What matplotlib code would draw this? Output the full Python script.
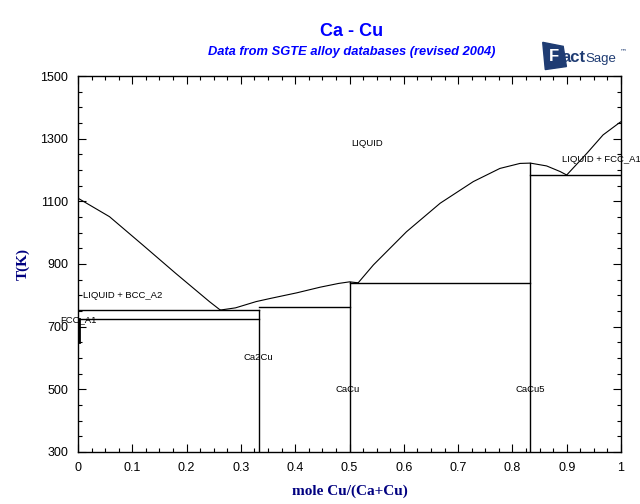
import numpy as np
import matplotlib
matplotlib.use("Agg")
import matplotlib.pyplot as plt
from matplotlib.patches import Polygon
from matplotlib.ticker import MultipleLocator, FixedLocator

# --- data ---
# liquidus, Ca side (x, T)
liq_ca_x = [0.0, 0.058, 0.119, 0.180, 0.242, 0.262]
liq_ca_T = [1110, 1051, 961, 870, 780, 753]
# liquidus between eutectic and CaCu
liq_mid_x = [0.262, 0.29, 0.328, 0.354, 0.403, 0.446, 0.48, 0.5, 0.516]
liq_mid_T = [753, 760, 780, 790, 808, 826, 838, 843, 840]
# liquidus up to CaCu5 maximum
liq_cu5_x = [0.516, 0.544, 0.605, 0.667, 0.728, 0.777, 0.814, 0.833, 0.863, 0.888, 0.9]
liq_cu5_T = [840, 897, 1003, 1094, 1163, 1205, 1221, 1222, 1213, 1195, 1184]
# liquidus Cu side
liq_cu_x = [0.9, 0.937, 0.967, 0.998, 1.0]
liq_cu_T = [1184, 1253, 1312, 1352, 1354]

# invariant lines: (x_start, x_end, T)
inv_lines = [(0.0, 0.3333, 753), (0.0, 0.3333, 724), (0.3333, 0.5, 762),
             (0.5, 0.8333, 839), (0.8333, 1.0, 1184)]
# compounds: (x, T_top)
compounds = [(0.3333, 753), (0.5, 843), (0.8333, 1222)]
# FCC_A1 Ca boundary
fcc_T = [651, 724]

labels = [("LIQUID", 0.503, 1286), ("LIQUID + BCC_A2", 0.009, 801),
          ("LIQUID + FCC_A1", 0.891, 1235), ("FCC_A1", -0.033, 721),
          ("Ca2Cu", 0.304, 600), ("CaCu", 0.475, 498), ("CaCu5", 0.805, 498)]

x_ticks = [0, 0.1, 0.2, 0.3, 0.4, 0.5, 0.6, 0.7, 0.8, 0.9, 1]
x_ticklabels = ["0", "0.1", "0.2", "0.3", "0.4", "0.5", "0.6", "0.7", "0.8", "0.9", "1"]
y_ticks = [300, 500, 700, 900, 1100, 1300, 1500]

fig = plt.figure(figsize=(6.4, 5.04), dpi=100)
ax = fig.add_axes([0.1219, 0.1032, 0.8484, 0.746])

lw = 0.8
for xs, Ts in [(liq_ca_x, liq_ca_T), (liq_mid_x, liq_mid_T),
               (liq_cu5_x, liq_cu5_T), (liq_cu_x, liq_cu_T)]:
    ax.plot(xs, Ts, color="black", lw=lw)
for x0, x1, T in inv_lines:
    ax.plot([x0, x1], [T, T], color="black", lw=1.0)
for x, Ttop in compounds:
    ax.plot([x, x], [300, Ttop], color="black", lw=1.0)
ax.plot([0.002, 0.002], fcc_T, color="black", lw=2.0)

for txt, x, T in labels:
    ax.text(x, T, txt, fontsize=6.8, family="Liberation Sans",
            va="center", ha="left", clip_on=False)

ax.set_xlim(0, 1)
ax.set_ylim(300, 1500)
ax.xaxis.set_major_locator(FixedLocator(x_ticks))
ax.set_xticklabels(x_ticklabels)
ax.xaxis.set_minor_locator(MultipleLocator(0.025))
ax.yaxis.set_major_locator(FixedLocator(y_ticks))
ax.set_yticklabels([str(t) for t in y_ticks])
ax.yaxis.set_minor_locator(MultipleLocator(50))
ax.tick_params(which="both", direction="in", top=True, right=True, width=0.8)
ax.tick_params(which="major", length=6, pad=7, labelsize=9)
ax.tick_params(which="minor", length=3)
for lab in ax.get_xticklabels() + ax.get_yticklabels():
    lab.set_family("Liberation Sans")
for s in ax.spines.values():
    s.set_linewidth(1.0)

ax.set_xlabel("mole Cu/(Ca+Cu)", family="Liberation Serif", fontweight="bold",
              fontsize=11, color="#000080", labelpad=8)
ax.set_ylabel("T(K)", family="Liberation Serif", fontweight="bold",
              fontsize=11, color="#000080", labelpad=8)

fig.text(0.55, 0.938, "Ca - Cu", ha="center", va="center", fontsize=13,
         fontweight="bold", color="#0000ff", family="Liberation Sans")
fig.text(0.55, 0.896, "Data from SGTE alloy databases (revised 2004)",
         ha="center", va="center", fontsize=9.3, fontweight="bold",
         style="italic", color="#0000ff", family="Liberation Sans")

# FactSage logo (approximate)
logo = Polygon([[0.848, 0.916], [0.880, 0.908], [0.885, 0.868], [0.852, 0.862]],
               closed=True, transform=fig.transFigure, color="#1f3c73")
fig.patches.append(logo)
fig.text(0.866, 0.888, "F", ha="center", va="center", fontsize=12,
         fontweight="bold", color="white", family="Liberation Sans")
fig.text(0.877, 0.885, "act", ha="left", va="center", fontsize=12,
         fontweight="bold", color="#1f3c73", family="Liberation Sans")
fig.text(0.914, 0.883, "Sage", ha="left", va="center", fontsize=9.5,
         color="#1f3c73", family="Liberation Sans")
fig.text(0.968, 0.899, "™", ha="left", va="center", fontsize=5,
         color="#1f3c73", family="DejaVu Sans")

fig.savefig("out.png", dpi=100)
